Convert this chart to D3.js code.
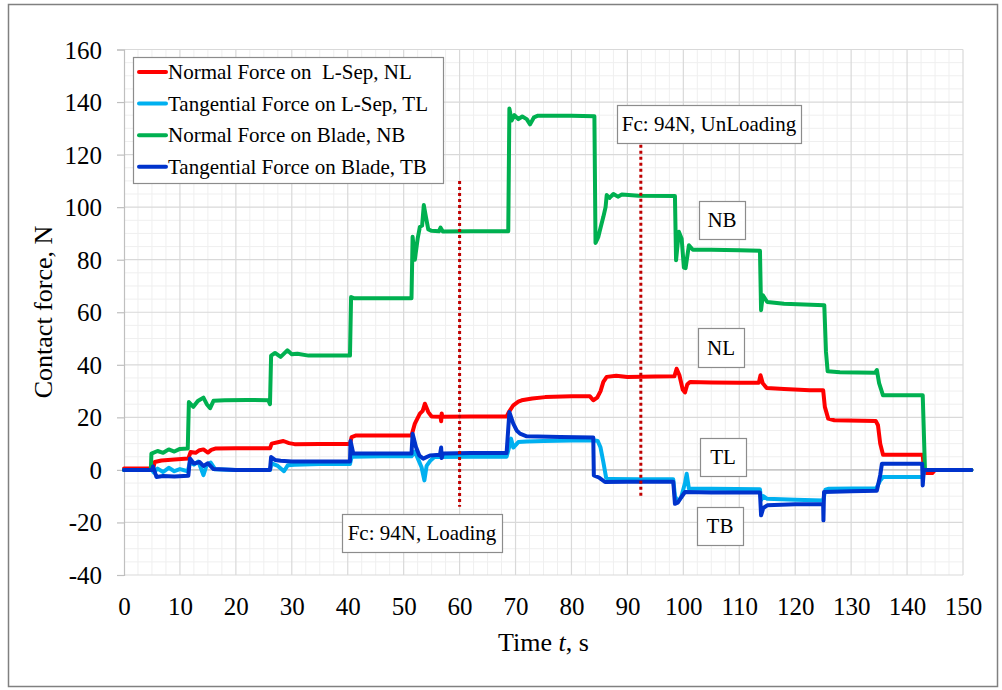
<!DOCTYPE html>
<html><head><meta charset="utf-8">
<script src="https://cdn.jsdelivr.net/npm/d3@7"></script>
<style>
html,body{margin:0;padding:0;background:#fff;}
svg{display:block;}
svg text{font-family:"Liberation Serif","Times New Roman",Tinos,"DejaVu Serif",serif !important;}
</style></head>
<body><svg id="c" width="1002" height="690"></svg>
<script>
// ---- data ----
const xTicks = [0,10,20,30,40,50,60,70,80,90,100,110,120,130,140,150];
const yTicks = [-40,-20,0,20,40,60,80,100,120,140,160];
const seriesNames = ["Normal Force on  L-Sep, NL","Tangential Force on L-Sep, TL","Normal Force on Blade, NB","Tangential Force on Blade, TB"];
const seriesColors = ["#FF0000","#00B0F0","#00B050","#0033CC"];

const NL = [[0,0.5],[5.2,0.5],[5.5,3.0],[6.7,3.6],[9,4.0],[11.5,4.3],[11.9,6.8],[12.8,6.5],[13.5,7.5],[14.2,7.8],[15.0,6.6],[15.6,7.6],[16.3,8.1],[20,8.2],[26.1,8.2],[26.4,10.0],[27.5,10.5],[28.5,11.0],[29.5,10.2],[30.5,9.8],[35,9.9],[40.4,9.9],[40.7,12.5],[41.5,13.1],[46,13.1],[51.4,13.1],[52.0,17.6],[52.9,21.4],[53.4,22.5],[53.8,25.2],[54.4,22.0],[55.0,20.3],[56.6,20.2],[56.7,18.5],[56.8,21.5],[56.9,20.2],[62,20.3],[68.4,20.3],[68.8,22.0],[69.6,24.6],[70.5,26.0],[71.1,26.5],[73,27.2],[75.3,27.7],[80,28.0],[83.3,28.0],[83.9,26.5],[84.6,27.5],[85.2,30],[85.7,33.5],[86.3,35.4],[88,35.8],[90,35.4],[95,35.5],[98.4,35.6],[98.8,38.5],[99.3,36.0],[99.9,30.5],[100.3,29.5],[100.7,32.5],[101.2,33.5],[105,33.3],[110,33.2],[113.5,33.2],[113.8,36.0],[114.2,33.0],[114.9,31.2],[118,30.8],[122.6,30.3],[125.0,30.3],[125.3,24],[125.9,19.5],[127,18.9],[134.4,18.6],[134.8,17],[135.2,10],[135.7,5.8],[142.8,5.8],[143.0,0],[143.5,-1.2],[144.5,-1.2],[145,0],[151.5,0]];

const TL = [[0,0],[5.0,0],[5.3,-1.0],[6.0,0.5],[7,-0.8],[8,0.8],[9,-0.5],[10,0.3],[11.4,-0.5],[11.8,3.0],[12.5,2.0],[13.3,3.2],[14.2,-2.0],[14.8,2.0],[15.5,2.8],[16.3,0.2],[20,0],[26.1,0],[26.4,2.5],[27.5,1.5],[28.6,-0.5],[29.3,1.8],[30.5,2.0],[35,2.2],[40.4,2.2],[40.7,5.0],[46,5.2],[51.4,5.2],[52,7],[52.6,4],[53.2,1],[53.7,-4.0],[54.1,1.5],[54.8,3.6],[55.5,4.9],[62,5.0],[68.4,5.0],[68.9,9],[69.2,11.9],[69.6,8.5],[70.5,10.6],[72,10.8],[75,11.0],[80,11.2],[84.2,11.2],[84.7,11.0],[85.2,8.5],[85.7,3],[86.2,-3.0],[87,-3.5],[92,-3.6],[98.2,-3.6],[98.5,-10],[99,-12.0],[99.6,-10.5],[100.3,-5],[100.6,-1.5],[101,-7.2],[105,-7.2],[113.7,-7.4],[113.9,-11.5],[114.3,-10],[115,-11.0],[120,-11.4],[125,-11.6],[125.4,-7.5],[126,-7.2],[134.5,-7.0],[135.2,-4],[135.7,-2.7],[142.8,-2.7],[143.1,0],[151.5,0]];

const NB = [[0,0],[4.8,0],[4.9,6.2],[6,7.2],[7,6.5],[8,7.8],[9,7.0],[10,8.0],[11.4,8.1],[11.6,25.8],[12.4,24.0],[13.2,26.2],[14.2,27.5],[14.8,25],[15.4,23.5],[16,26.3],[18,26.5],[22,26.6],[25.8,26.5],[26.1,25.0],[26.3,43.5],[27,44.5],[28,43],[29.2,45.5],[30,44.0],[31,44.2],[33,43.5],[36,43.5],[40.4,43.5],[40.6,65.8],[41.2,65.3],[46,65.3],[51.4,65.3],[51.6,88.7],[52.0,80],[52.5,88],[52.9,92.5],[53.3,93],[53.6,100.8],[54.0,96],[54.4,91.5],[55,91.0],[56.3,90.8],[56.6,92.2],[57,90.7],[62,90.8],[68.7,90.8],[68.9,137.5],[69.3,133],[69.8,135],[70.5,133.5],[71.2,134.5],[72,133.5],[72.6,131.5],[73.3,134.2],[74,134.8],[80,134.8],[84.1,134.6],[84.3,86.4],[84.8,88.7],[85.3,93],[85.7,96.3],[86.1,100],[86.3,104.6],[86.8,103.5],[87.5,105],[88.3,104],[89,104.8],[92,104.3],[98.5,104.2],[98.7,79.8],[99.2,90.6],[99.7,88],[100.1,77],[100.4,76.8],[101,85.5],[101.7,83.8],[105,83.8],[110,83.6],[113.7,83.4],[113.9,60.8],[114.2,66.5],[115,63.9],[118,63.2],[125.2,62.7],[125.5,45],[125.8,37.5],[128,37.2],[134.3,37],[134.6,38],[135.0,33],[135.7,28.4],[142.8,28.4],[143.2,0],[151.5,0]];

const TB = [[0,0],[5.0,0],[5.2,1.3],[5.8,-2.7],[7,-2.3],[9,-2.5],[11.5,-2.2],[11.8,4.3],[12.5,2.4],[13.5,3.0],[14.2,1.5],[15,2.5],[16,0.3],[20,0],[26.1,0],[26.3,4.9],[27,3.8],[28,3.5],[30,3.2],[35,3.2],[40.4,3.2],[40.5,11],[41,6.2],[46,6.2],[51.4,6.2],[51.6,13.8],[52.2,8.7],[52.8,5.5],[53.5,4.3],[54.7,5.5],[56.5,5.8],[56.7,8.5],[56.8,4.5],[57,6.2],[62,6.4],[68.4,6.4],[68.9,22.0],[69.6,17.6],[70.2,15.0],[70.8,13.8],[72,12.8],[78,12.5],[83.9,12.3],[84.0,-2.1],[85,-3],[86,-4.6],[90,-4.5],[98.2,-4.5],[98.5,-12.9],[99,-12.5],[99.6,-10.5],[100.3,-8.4],[105,-8.6],[113.7,-8.6],[113.9,-17.3],[114.3,-14.5],[115,-13.5],[120,-13.1],[125.0,-13.0],[125.05,-19.2],[125.15,-8.4],[130,-8.1],[134.6,-7.9],[135.2,-2],[135.5,2.3],[142.7,2.3],[142.8,-5.9],[143,0],[151.5,0]];

const markers = [{t:60, y0:110, y1:-14, label:"Fc: 94N, Loading"},{t:92.4, y0:126, y1:-11, label:"Fc: 94N, UnLoading"}];
const tags = [{label:"NB"},{label:"NL"},{label:"TL"},{label:"TB"}];

// ---- chart ----
const FONT = '"Liberation Serif","Times New Roman",Tinos,"DejaVu Serif",serif';
const svg = d3.select("#c");
const x = d3.scaleLinear().domain([0,150]).range([124,963]);
const y = d3.scaleLinear().domain([-40,160]).range([575,49.5]);
const fmt = d => String(d);

svg.append("rect").attr("x",8.5).attr("y",4.5).attr("width",989).attr("height",682)
  .attr("fill","#fff").attr("stroke","#808080").attr("stroke-width",1.5);

const g = svg.append("g");
// minor grid
const xMinor = d3.range(0,150.01,2.5).filter(v=>v%10!==0);
const yMinor = d3.range(-40,160.01,5).filter(v=>v%20!==0);
g.selectAll(".xm").data(xMinor).join("line").attr("x1",d=>x(d)).attr("x2",d=>x(d))
  .attr("y1",y(-40)).attr("y2",y(160)).attr("stroke","#efefef").attr("stroke-width",1);
g.selectAll(".ym").data(yMinor).join("line").attr("y1",d=>y(d)).attr("y2",d=>y(d))
  .attr("x1",x(0)).attr("x2",x(150)).attr("stroke","#efefef").attr("stroke-width",1);
// major grid
g.selectAll(".xM").data(xTicks.filter(d=>d>0)).join("line").attr("x1",d=>x(d)).attr("x2",d=>x(d))
  .attr("y1",y(-40)).attr("y2",y(160)).attr("stroke","#d9d9d9").attr("stroke-width",1.2);
g.selectAll(".yM").data(yTicks).join("line").attr("y1",d=>y(d)).attr("y2",d=>y(d))
  .attr("x1",x(0)).attr("x2",x(150)).attr("stroke","#d9d9d9").attr("stroke-width",1.2);

// y axis
const yAxis = svg.append("g").attr("transform",`translate(${x(0)},0)`)
  .call(d3.axisLeft(y).tickValues(yTicks).tickSize(7).tickPadding(15).tickFormat(fmt));
yAxis.attr("font-family",FONT);
yAxis.select(".domain").attr("stroke","#bfbfbf").attr("stroke-width",1.2);
yAxis.selectAll(".tick line").attr("stroke","#bfbfbf").attr("stroke-width",1.2);
yAxis.selectAll("text").attr("font-family",FONT).attr("font-size",25).attr("fill","#000").attr("dy","0.34em");
// zero line
svg.append("line").attr("x1",x(0)).attr("x2",x(150)).attr("y1",y(0)).attr("y2",y(0)).attr("stroke","#bfbfbf").attr("stroke-width",1.2);

// x axis labels
const xAxis = svg.append("g").attr("transform",`translate(0,${y(-40)})`)
  .call(d3.axisBottom(x).tickValues(xTicks).tickSize(0).tickPadding(22).tickFormat(fmt));
xAxis.attr("font-family",FONT);
xAxis.select(".domain").remove();
xAxis.selectAll("text").attr("font-family",FONT).attr("font-size",25).attr("fill","#000");

// axis titles
const xt = svg.append("text").attr("x",543.5).attr("y",651).attr("text-anchor","middle")
  .attr("font-family",FONT).attr("font-size",26).attr("fill","#000");
xt.append("tspan").text("Time ");
xt.append("tspan").attr("font-style","italic").text("t");
xt.append("tspan").text(", s");
svg.append("text").attr("transform","translate(52,312) rotate(-90)").attr("text-anchor","middle")
  .attr("font-family",FONT).attr("font-size",26).attr("fill","#000").text("Contact force, N");

// series
const line = d3.line().x(d=>x(d[0])).y(d=>y(d[1]));
const allSeries = [NL, TL, NB, TB];
svg.append("g").selectAll("path").data(allSeries).join("path")
  .attr("d",line).attr("fill","none")
  .attr("stroke",(d,i)=>seriesColors[i]).attr("stroke-width",4)
  .attr("stroke-linejoin","round").attr("stroke-linecap","round");

// markers (dotted lines)
svg.append("g").selectAll("line").data(markers).join("line")
  .attr("x1",d=>x(d.t)).attr("x2",d=>x(d.t)).attr("y1",d=>y(d.y0)).attr("y2",d=>y(d.y1))
  .attr("stroke","#C00000").attr("stroke-width",3).attr("stroke-dasharray","3,3");

// annotation boxes
const boxes = [
  {label:markers[0].label, x0:342, x1:502, y0:514, y1:552},
  {label:markers[1].label, x0:617, x1:801, y0:105, y1:143},
  {label:tags[0].label, x0:699, x1:745, y0:201, y1:239},
  {label:tags[1].label, x0:698, x1:744, y0:328, y1:367},
  {label:tags[2].label, x0:700, x1:746, y0:438, y1:476},
  {label:tags[3].label, x0:697, x1:743, y0:507, y1:545}
];
const bg = svg.append("g").selectAll("g").data(boxes).join("g");
bg.append("rect").attr("x",d=>d.x0+0.5).attr("y",d=>d.y0+0.5).attr("width",d=>d.x1-d.x0).attr("height",d=>d.y1-d.y0)
  .attr("fill","#fff").attr("stroke","#8c8c8c").attr("stroke-width",1.2);
bg.append("text").attr("x",d=>(d.x0+d.x1)/2).attr("y",d=>(d.y0+d.y1)/2+7).attr("text-anchor","middle")
  .attr("font-family",FONT).attr("font-size",21).attr("fill","#000").text(d=>d.label);

// legend
const lg = svg.append("g");
lg.append("rect").attr("x",133.5).attr("y",57.5).attr("width",310).attr("height",126)
  .attr("fill","#fff").attr("stroke","#8c8c8c").attr("stroke-width",1.2);
const rows = lg.selectAll("g").data(seriesNames).join("g")
  .attr("transform",(d,i)=>`translate(0,${72+i*31.6})`);
rows.append("line").attr("x1",139).attr("x2",166).attr("y1",0).attr("y2",0)
  .attr("stroke",(d,i)=>seriesColors[i]).attr("stroke-width",4).attr("stroke-linecap","round");
rows.append("text").attr("x",168).attr("y",7).attr("font-family",FONT).attr("font-size",21).attr("fill","#000")
  .style("white-space","pre").text(d=>d);
</script></body></html>
